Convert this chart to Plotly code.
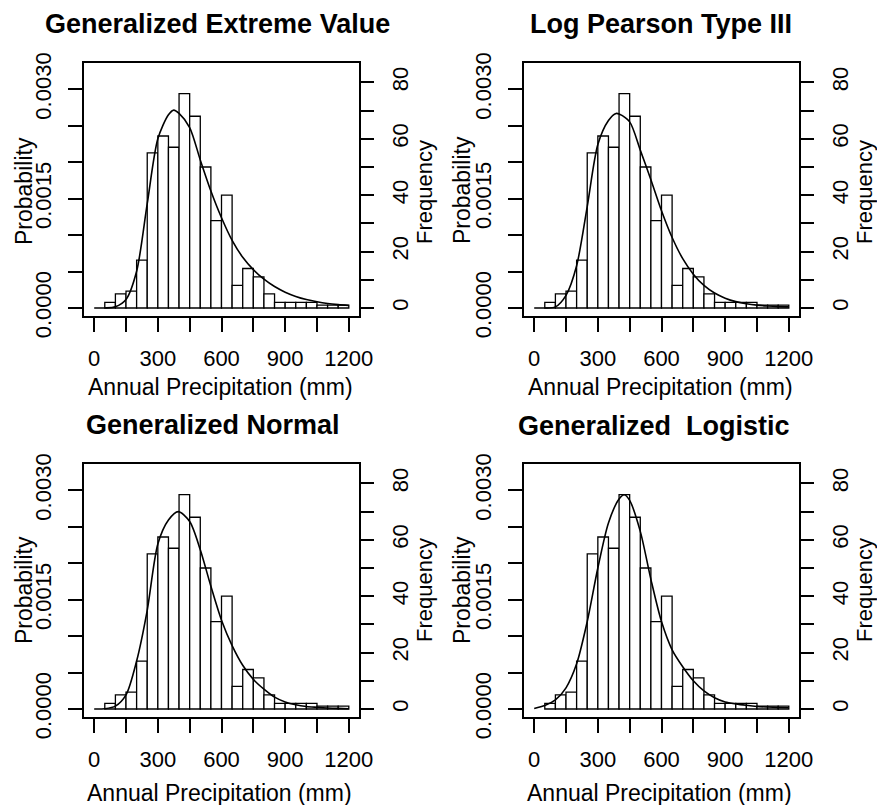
import plotly.graph_objects as go

# ---------------- data ----------------
BIN_LEFT = [50, 100, 150, 200, 250, 300, 350, 400, 450, 500, 550, 600,
            650, 700, 750, 800, 850, 900, 950, 1000, 1050, 1100, 1150]
BIN_WIDTH = 50
COUNTS = [2, 5, 6, 17, 55, 61, 57, 76, 68, 50, 31, 40,
          8, 14, 11, 5, 2, 2, 2, 2, 1, 1, 1]

GEV_X = [0, 50, 100, 150, 200, 250, 300, 350, 375, 400, 450, 500, 550, 600,
         650, 700, 750, 800, 850, 900, 950, 1000, 1050, 1100, 1150, 1200]
GEV_PDF = [0, 0, 0.0000155, 0.000116, 0.000503, 0.001431, 0.002321, 0.002650,
           0.002715, 0.002669, 0.002476, 0.002031, 0.001605, 0.001238, 0.000928,
           0.000696, 0.000526, 0.000395, 0.000294, 0.000217, 0.000159, 0.000116,
           0.0000851, 0.0000619, 0.0000464, 0.0000348]

LP3_X = [0, 50, 100, 150, 200, 250, 300, 350, 386, 400, 450, 500, 550, 600,
         650, 700, 750, 800, 850, 900, 950, 1000, 1050, 1100, 1150, 1200]
LP3_PDF = [0, 0, 0.0000155, 0.000174, 0.000580, 0.001392, 0.002243, 0.002572,
           0.002669, 0.002661, 0.002553, 0.002166, 0.001760, 0.001334, 0.000967,
           0.000677, 0.000464, 0.000309, 0.000205, 0.000135, 0.0000870, 0.0000580,
           0.0000387, 0.0000271, 0.0000193, 0.0000155]

GNO_X = [0, 50, 100, 150, 200, 250, 300, 350, 396, 450, 500, 550, 600, 650,
         700, 750, 800, 850, 900, 950, 1000, 1050, 1100, 1150, 1200]
GNO_PDF = [0, 0.0000039, 0.0000387, 0.000193, 0.000658, 0.001354, 0.002263,
           0.002592, 0.002708, 0.002572, 0.002185, 0.001683, 0.001218, 0.000870,
           0.000600, 0.000406, 0.000271, 0.000162, 0.0000967, 0.0000580,
           0.0000348, 0.0000232, 0.0000135, 0.0000077, 0.0000039]

GLO_X = [0, 50, 100, 150, 200, 250, 300, 350, 400, 424, 450, 500, 550, 600,
         650, 700, 750, 800, 850, 900, 950, 1000, 1050, 1100, 1150, 1200]
GLO_PDF = [0.0000077, 0.0000464, 0.000124, 0.000290, 0.000619, 0.001199,
           0.001934, 0.002553, 0.002882, 0.002940, 0.002862, 0.002437, 0.001779,
           0.001199, 0.000812, 0.000580, 0.000387, 0.000248, 0.000155,
           0.0000967, 0.0000696, 0.0000503, 0.0000348, 0.0000271, 0.0000213,
           0.0000174]

TITLES = ["Generalized Extreme Value", "Log Pearson Type III",
          "Generalized Normal", "Generalized\u00a0 Logistic"]
CURVES = [(GEV_X, GEV_PDF), (LP3_X, LP3_PDF), (GNO_X, GNO_PDF), (GLO_X, GLO_PDF)]

X_TICKS = [0, 150, 300, 450, 600, 750, 900, 1050, 1200]
X_TICKTEXT = ["0", "", "300", "", "600", "", "900", "", "1200"]
P_TICKS = [0, 0.0005, 0.0010, 0.0015, 0.0020, 0.0025, 0.0030]
P_TICKTEXT = ["0.0000", "", "", "0.0015", "", "", "0.0030"]
F_TICKS = [0, 10, 20, 30, 40, 50, 60, 70, 80]
F_TICKTEXT = ["0", "", "20", "", "40", "", "60", "", "80"]

# ---------------- layout geometry ----------------
W, H = 877, 805
FONT = "Liberation Sans, Arial, Helvetica, sans-serif"
# plot boxes in pixels: (left, right, top, bottom)
BOXES = [(84, 359, 63, 316), (524, 799, 63, 316),
         (84, 359, 464, 717), (524, 799, 464, 717)]

N = sum(COUNTS)
SCALE = N * BIN_WIDTH          # density -> frequency
X_RANGE = [-48, 1248]
P_RANGE = [-0.00011, 0.003361]
F_RANGE = [v * SCALE for v in P_RANGE]

centers = [b + BIN_WIDTH / 2 for b in BIN_LEFT]
density = [c / SCALE for c in COUNTS]

fig = go.Figure()
layout = dict(width=W, height=H, margin=dict(l=0, r=0, t=0, b=0, pad=0, autoexpand=False),
              paper_bgcolor="white", plot_bgcolor="white", showlegend=False,
              font=dict(family=FONT, color="black"))
annotations = []

for i in range(4):
    xa = "x" if i == 0 else f"x{i+1}"
    yp = "y" if i == 0 else f"y{2*i+1}"
    yf = f"y{2*i+2}"
    l, r, t, b = BOXES[i]
    xdom = [l / W, r / W]
    ydom = [1 - b / H, 1 - t / H]

    fig.add_trace(go.Bar(x=centers, y=density, width=BIN_WIDTH, xaxis=xa, yaxis=yp,
                         marker=dict(color="white", line=dict(color="black", width=1.3)),
                         hoverinfo="skip"))
    cx, cy = CURVES[i]
    fig.add_trace(go.Scatter(x=cx, y=cy, mode="lines", xaxis=xa, yaxis=yp,
                             line=dict(color="black", width=1.6, shape="spline", smoothing=0.8),
                             hoverinfo="skip"))
    # invisible frequency copy to carry the right axis
    fig.add_trace(go.Bar(x=centers, y=COUNTS, width=BIN_WIDTH, xaxis=xa, yaxis=yf,
                         marker=dict(color="rgba(0,0,0,0)", line=dict(width=0)),
                         hoverinfo="skip"))

    xkey = "xaxis" if i == 0 else f"xaxis{i+1}"
    ypkey = "yaxis" if i == 0 else f"yaxis{2*i+1}"
    yfkey = f"yaxis{2*i+2}"
    tickfont = dict(family=FONT, size=22, color="black")
    common = dict(automargin=False, showgrid=False, zeroline=False, fixedrange=True,
                  ticks="outside", ticklen=14, tickwidth=1.5, tickcolor="black",
                  tickfont=tickfont)
    layout[xkey] = dict(domain=xdom, anchor=yp, range=X_RANGE, tickvals=X_TICKS,
                        ticktext=X_TICKTEXT, showline=True, mirror=True, linecolor="black",
                        linewidth=2, ticklabelstandoff=8, **common)
    layout[ypkey] = dict(domain=ydom, anchor=xa, range=P_RANGE, tickvals=P_TICKS,
                         ticktext=P_TICKTEXT, tickangle=-90, showline=True, mirror=True,
                         linecolor="black", linewidth=2, ticklabelstandoff=8, **common)
    layout[yfkey] = dict(domain=ydom, anchor=xa, overlaying=yp, side="right",
                         range=F_RANGE, tickvals=F_TICKS, ticktext=F_TICKTEXT,
                         tickangle=-90, showline=False, ticklabelstandoff=8, **common)

TEXT_POS = [
    # title, probability, frequency, x title  (pixel centers)
    ((217, 24), (24, 191), (424, 192), (220, 387)),
    ((661, 24), (462, 190), (864, 192), (660, 387)),
    ((213, 425), (24, 590), (424, 590), (219, 793)),
    ((654, 426), (462, 590), (864, 590), (659, 793)),
]
for i in range(4):
    (tx, ty), (px, py), (fx, fy), (ax, ay) = TEXT_POS[i]
    annotations.append(dict(text=f"<b>{TITLES[i]}</b>", x=tx / W, y=1 - ty / H,
                            xref="paper", yref="paper", showarrow=False,
                            xanchor="center", yanchor="middle",
                            font=dict(family=FONT, size=27, color="black")))
    annotations.append(dict(text="Probability", x=px / W, y=1 - py / H, textangle=-90,
                            xref="paper", yref="paper", showarrow=False,
                            xanchor="center", yanchor="middle",
                            font=dict(family=FONT, size=23, color="black")))
    annotations.append(dict(text="Frequency", x=fx / W, y=1 - fy / H, textangle=-90,
                            xref="paper", yref="paper", showarrow=False,
                            xanchor="center", yanchor="middle",
                            font=dict(family=FONT, size=22, color="black")))
    annotations.append(dict(text="Annual Precipitation (mm)", x=ax / W, y=1 - ay / H,
                            xref="paper", yref="paper", showarrow=False,
                            xanchor="center", yanchor="middle",
                            font=dict(family=FONT, size=23, color="black")))

layout["annotations"] = annotations
fig.update_layout(**layout)
fig.write_html("out.html")
